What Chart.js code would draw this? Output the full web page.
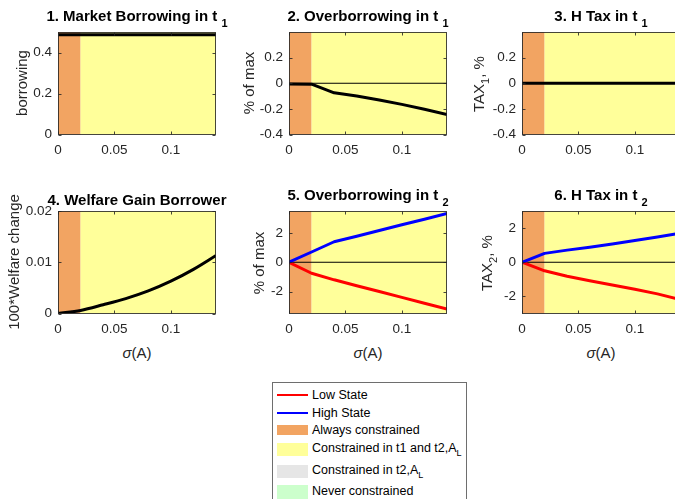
<!DOCTYPE html>
<html>
<head>
<meta charset="utf-8">
<script src="https://cdn.jsdelivr.net/npm/chart.js@4.4.0/dist/chart.umd.min.js"></script>
<style>
  html, body { margin: 0; padding: 0; background: #fff; }
  body { width: 675px; height: 499px; position: relative; overflow: hidden;
         font-family: "Liberation Sans", Arial, Helvetica, sans-serif; color: #262626; }
  .panel { position: absolute; }
  .txt { position: absolute; line-height: 1; white-space: nowrap; }
  .title { font-weight: bold; font-size: 15px; color: #000; transform: translateX(-50%); }
  .title .sb { font-size: 11px; vertical-align: -6px; line-height: 0; }
  .ylab { font-size: 15px; transform: translate(-50%, -50%) rotate(-90deg); }
  .ylab .sb { font-size: 11px; vertical-align: -5px; line-height: 0; }
  .xlab { font-size: 15px; transform: translate(-50%, -50%); }
  .legend { position: absolute; left: 272px; top: 382px; width: 193px; height: 140px;
            border: 1px solid #6e6e6e; background: #fff; }
  .legend .txt { font-size: 12.5px; color: #000; }
  .legend .sb { font-size: 9px; vertical-align: -4px; line-height: 0; }
  .swatch { position: absolute; }
</style>
</head>
<body>

<script>
// sigma(A) grid and results
const sigma = [0, 0.02, 0.04, 0.06, 0.08, 0.10, 0.12, 0.14];
const borrowingT1 = [0.487, 0.487, 0.487, 0.487, 0.487, 0.487, 0.487, 0.487];
const overborrowT1 = [-0.005, -0.007, -0.075, -0.100, -0.130, -0.165, -0.203, -0.245];
const taxT1 = [0, 0, 0, 0, 0, 0, 0, 0];
const welfareGain = [0, 0.0006, 0.0017, 0.0029, 0.0044, 0.0063, 0.0086, 0.0113];
const overborrowT2Low = [0, -0.75, -1.20, -1.60, -2.00, -2.40, -2.80, -3.20];
const overborrowT2High = [0, 0.70, 1.40, 1.78, 2.17, 2.56, 2.94, 3.33];
const taxT2Low = [0, -0.50, -0.82, -1.08, -1.33, -1.58, -1.85, -2.18];
const taxT2High = [0, 0.52, 0.71, 0.88, 1.07, 1.27, 1.48, 1.70];

// constraint regions along sigma: always constrained, constrained in t1 and t2,A_L
const regionEdges = [0, 0.02, 0.14];

const xRange = [0, 0.14];
const xTicks = [0, 0.05, 0.1];
const y1Range = [0, 0.5],     y1Ticks = [0, 0.2, 0.4];
const y2Range = [-0.4, 0.4],  y2Ticks = [-0.4, -0.2, 0, 0.2];
const y3Range = [-0.4, 0.4],  y3Ticks = [-0.4, -0.2, 0, 0.2];
const y4Range = [0, 0.02],    y4Ticks = [0, 0.01, 0.02];
const y5Range = [-3.5, 3.5],  y5Ticks = [-2, 0, 2];
const y6Range = [-3, 3],      y6Ticks = [-2, 0, 2];

const ORANGE = 'rgb(242,164,98)';
const YELLOW = 'rgb(255,255,154)';
const GRAY = 'rgb(230,230,230)';
const GREEN = 'rgb(204,255,204)';
const regionFill = [ORANGE, YELLOW];
const AXIS = '#262626';

// plot area placement (px)
const colLeft = [58, 289, 522];
const rowTop = [32, 211];
const plotW = 158, plotH = 102.5;
const padL = 45, padT = 16, padR = 6, padB = 24.5;

const shadePlugin = {
    id: 'shade',
    beforeDatasetsDraw(chart) {
        const { ctx, chartArea: a, scales: { x } } = chart;
        ctx.save();
        for (let i = 0; i < regionEdges.length - 1; i++) {
            const x0 = x.getPixelForValue(regionEdges[i]);
            const x1 = x.getPixelForValue(regionEdges[i + 1]);
            ctx.fillStyle = regionFill[i];
            ctx.fillRect(x0, a.top, x1 - x0, a.bottom - a.top);
        }
        ctx.restore();
    }
};

const boxPlugin = {
    id: 'box',
    afterDraw(chart) {
        const { ctx, chartArea: a, scales: { x, y } } = chart;
        const L = Math.round(a.left) + 0.5, R = Math.round(a.right) - 0.5;
        const T = Math.round(a.top) + 0.5, B = Math.round(a.bottom) - 0.5;
        ctx.save();
        ctx.strokeStyle = 'rgba(38,38,38,0.85)';
        ctx.lineWidth = 1;
        ctx.strokeRect(L, T, R - L, B - T);
        ctx.beginPath();
        x.ticks.forEach(t => {
            const px = Math.round(x.getPixelForValue(t.value)) + 0.5;
            ctx.moveTo(px, B); ctx.lineTo(px, B - 3);
            ctx.moveTo(px, T); ctx.lineTo(px, T + 3);
        });
        y.ticks.forEach(t => {
            const py = Math.round(y.getPixelForValue(t.value)) + 0.5;
            ctx.moveTo(L, py); ctx.lineTo(L + 3, py);
            ctx.moveTo(R, py); ctx.lineTo(R - 3, py);
        });
        ctx.stroke();
        ctx.restore();
    }
};

function series(values, color, width, smooth) {
    return {
        data: sigma.map((s, i) => ({ x: s, y: values[i] })),
        borderColor: color,
        borderWidth: width,
        pointRadius: 0,
        tension: 0,
        cubicInterpolationMode: smooth ? 'monotone' : 'default',
        borderJoinStyle: 'round',
        fill: false
    };
}

function zeroLine() {
    return {
        data: xRange.map(v => ({ x: v, y: 0 })),
        borderColor: '#000',
        borderWidth: 1,
        pointRadius: 0,
        fill: false,
        order: 10
    };
}

const tickFont = { family: '"Liberation Sans", Arial, sans-serif', size: 13.5 };

function makePanel(col, row, datasets, yRange, yTicks) {
    const div = document.createElement('div');
    div.className = 'panel';
    const w = padL + plotW + padR, h = padT + plotH + padB;
    div.style.left = (colLeft[col] - padL) + 'px';
    div.style.top = (rowTop[row] - padT) + 'px';
    div.style.width = w + 'px';
    div.style.height = Math.ceil(h) + 'px';
    const cv = document.createElement('canvas');
    cv.width = w; cv.height = Math.ceil(h);
    div.appendChild(cv);
    document.body.appendChild(div);

    new Chart(cv, {
        type: 'line',
        data: { datasets },
        plugins: [shadePlugin, boxPlugin],
        options: {
            responsive: false,
            animation: false,
            devicePixelRatio: 1,
            layout: { padding: { top: padT, right: padR, left: 0, bottom: Math.ceil(h) - h } },
            plugins: { legend: { display: false }, tooltip: { enabled: false } },
            scales: {
                x: {
                    type: 'linear',
                    min: xRange[0], max: xRange[1],
                    grid: { display: false, drawTicks: false },
                    border: { display: false },
                    afterBuildTicks: s => { s.ticks = xTicks.map(v => ({ value: v })); },
                    afterFit: s => { s.height = padB; },
                    ticks: { color: AXIS, font: tickFont, padding: 8, maxRotation: 0, callback: v => String(v) }
                },
                y: {
                    type: 'linear',
                    min: yRange[0], max: yRange[1],
                    grid: { display: false, drawTicks: false },
                    border: { display: false },
                    afterBuildTicks: s => { s.ticks = yTicks.map(v => ({ value: v })); },
                    afterFit: s => { s.width = padL; },
                    ticks: { color: AXIS, font: tickFont, padding: 6, callback: v => String(v) }
                }
            }
        }
    });
}

makePanel(0, 0, [series(borrowingT1, '#000', 3)], y1Range, y1Ticks);
makePanel(1, 0, [series(overborrowT1, '#000', 3), zeroLine()], y2Range, y2Ticks);
makePanel(2, 0, [series(taxT1, '#000', 3), zeroLine()], y3Range, y3Ticks);
makePanel(0, 1, [series(welfareGain, '#000', 3, true)], y4Range, y4Ticks);
makePanel(1, 1, [series(overborrowT2High, '#0000ff', 3), series(overborrowT2Low, '#ff0000', 3), zeroLine()], y5Range, y5Ticks);
makePanel(2, 1, [series(taxT2High, '#0000ff', 3), series(taxT2Low, '#ff0000', 3), zeroLine()], y6Range, y6Ticks);

// text: titles, axis labels
function addText(cls, html, x, y) {
    const d = document.createElement('div');
    d.className = 'txt ' + cls;
    d.innerHTML = html;
    d.style.left = x + 'px';
    d.style.top = y + 'px';
    document.body.appendChild(d);
    return d;
}
const cx = colLeft.map(l => l + plotW / 2);
addText('title', '1. Market Borrowing in t <span class="sb">1</span>', cx[0], 7.7);
addText('title', '2. Overborrowing in t <span class="sb">1</span>', cx[1], 7.7);
addText('title', '3. H Tax in t <span class="sb">1</span>', cx[2], 7.7);
addText('title', '4. Welfare Gain Borrower', cx[0], 191.7);
addText('title', '5. Overborrowing in t <span class="sb">2</span>', cx[1], 186.5);
addText('title', '6. H Tax in t <span class="sb">2</span>', cx[2], 186.5);

addText('ylab', 'borrowing', 21, 83);
addText('ylab', '% of max', 248, 83);
addText('ylab', 'TAX<span class="sb">1</span>, %', 478, 84);
addText('ylab', '100*Welfare change', 13, 262);
addText('ylab', '% of max', 258, 263);
addText('ylab', 'TAX<span class="sb">2</span>, %', 486, 263);

addText('xlab', '<i>σ</i>(A)', cx[0], 352);
addText('xlab', '<i>σ</i>(A)', cx[1], 352);
addText('xlab', '<i>σ</i>(A)', cx[2], 352);

// figure legend
const legend = document.createElement('div');
legend.className = 'legend';
document.body.appendChild(legend);
const legendItems = [
    { html: 'Low State', kind: 'line', color: '#ff0000', cy: 12, top: 11, h: 2 },
    { html: 'High State', kind: 'line', color: '#0000ff', cy: 29.7, top: 28.7, h: 2 },
    { html: 'Always constrained', kind: 'patch', color: ORANGE, cy: 47, top: 42, h: 10.3 },
    { html: 'Constrained in t1 and t2,A<span class="sb">L</span>', kind: 'patch', color: YELLOW, cy: 64.7, top: 59.7, h: 13.3 },
    { html: 'Constrained in t2,A<span class="sb">L</span>', kind: 'patch', color: GRAY, cy: 87.3, top: 82, h: 12.7 },
    { html: 'Never constrained', kind: 'patch', color: GREEN, cy: 108, top: 102, h: 14 }
];
legendItems.forEach(it => {
    const sw = document.createElement('div');
    sw.className = 'swatch';
    sw.style.left = '4px';
    sw.style.width = '31px';
    sw.style.top = it.top + 'px';
    sw.style.height = it.h + 'px';
    sw.style.background = it.color;
    legend.appendChild(sw);
    const t = document.createElement('div');
    t.className = 'txt';
    t.innerHTML = it.html;
    t.style.left = '39px';
    t.style.top = (it.cy - 6.1) + 'px';
    legend.appendChild(t);
});
</script>
</body>
</html>
